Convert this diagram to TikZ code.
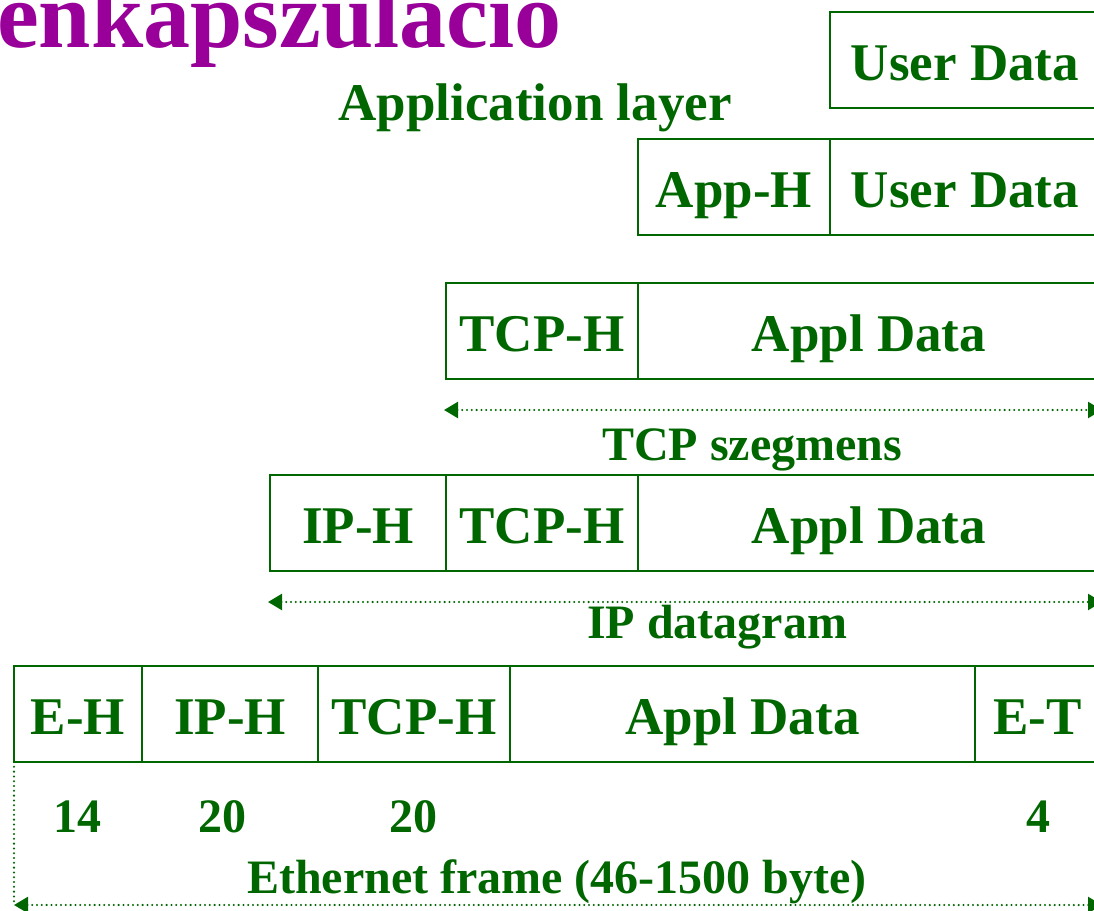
\documentclass[tikz,border=0pt]{standalone}
\usepackage{fontspec}
\setmainfont{Liberation Serif}
\usetikzlibrary{positioning,arrows.meta}
\definecolor{encgreen}{HTML}{006600}
\definecolor{encpurple}{HTML}{990099}
\tikzset{
  cell/.style={draw=encgreen, line width=2pt, text=encgreen,
    font=\fontsize{53}{60}\selectfont\bfseries, minimum height=96pt,
    text height=40pt, text depth=0pt, inner sep=0pt, outer sep=0pt, anchor=north west},
  lbl/.style={text=encgreen, font=\fontsize{48}{56}\selectfont\bfseries, inner sep=0pt, anchor=base},
  dots/.style={encgreen, line width=2.3pt, line cap=round, dash pattern=on 0pt off 4.8pt},
  span/.style={dots, arrows={Triangle[length=14pt,width=16pt,line cap=butt]-Triangle[length=14pt,width=16pt,line cap=butt]}}
}
\begin{document}
\begin{tikzpicture}[x=1pt,y=-1pt]
\useasboundingbox (0,0) rectangle (1094,910);
\clip (0,0) rectangle (1094,910);
% title (cut off at the page edge)
\node[text=encpurple, font=\fontsize{94}{100}\selectfont\bfseries, inner sep=0pt, anchor=base west] (cim) at (-3,47) {enkapszulacio};

% application layer
\node[cell, minimum width=270pt] (ud1) at (830,12) {User Data};
\node[lbl, font=\fontsize{53}{60}\selectfont\bfseries] (appl) at (535,120) {Application layer};
\node[cell, minimum width=192pt] (apph) at (638,139) {App-H};
\node[cell, minimum width=270pt, right=0pt of apph] (ud2) {User Data};

% TCP segment
\node[cell, minimum width=192pt] (tcph3) at (446,283) {TCP-H};
\node[cell, minimum width=462pt, right=0pt of tcph3] (data3) {Appl Data};
\coordinate (tcpL) at (444,410);
\coordinate (tcpR) at (1102,410);
\draw[span] (tcpL) -- (tcpR);
\node[lbl] (tcpseg) at (752,460) {TCP szegmens};

% IP datagram
\node[cell, minimum width=176pt] (iph4) at (270,475) {IP-H};
\node[cell, minimum width=192pt, right=0pt of iph4] (tcph4) {TCP-H};
\node[cell, minimum width=462pt, right=0pt of tcph4] (data4) {Appl Data};
\coordinate (ipL) at (268,602);
\coordinate (ipR) at (1102,602);
\draw[span] (ipL) -- (ipR);
\node[lbl] (ipdg) at (717,638) {IP datagram};

% Ethernet frame
\node[cell, minimum width=128pt] (eh) at (14,666) {E-H};
\node[cell, minimum width=176pt, right=0pt of eh] (iph5) {IP-H};
\node[cell, minimum width=192pt, right=0pt of iph5] (tcph5) {TCP-H};
\node[cell, minimum width=465pt, right=0pt of tcph5] (data5) {Appl Data};
\node[cell, minimum width=125pt, right=0pt of data5] (et) {E-T};
\node[lbl] (n14) at (77,832) {14};
\node[lbl] (n20a) at (222,832) {20};
\node[lbl] (n20b) at (413,832) {20};
\node[lbl] (n4) at (1038,832) {4};
\coordinate (ethL) at (14,905);
\coordinate (ethR) at (1102,905);
\draw[dots] (eh.south west) -- (ethL);
\draw[span] (ethL) -- (ethR);
\node[lbl] (ethfr) at (557,893) {Ethernet frame (46-1500 byte)};
\end{tikzpicture}
\end{document}
